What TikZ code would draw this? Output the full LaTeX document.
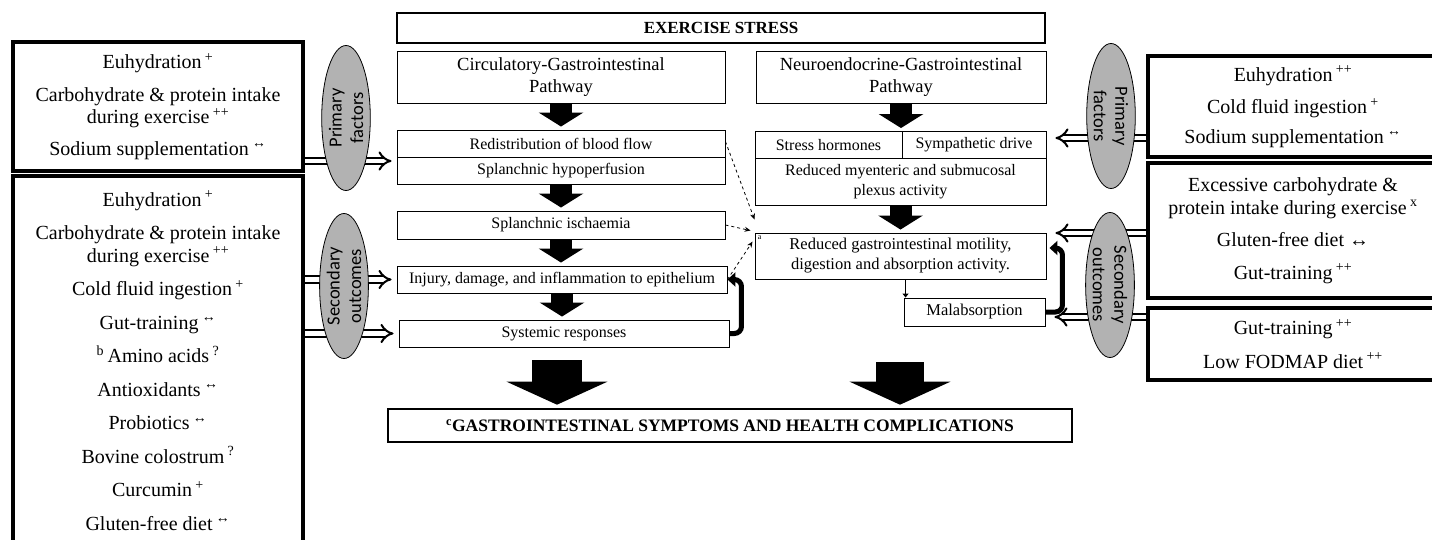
\documentclass[tikz,border=0pt]{standalone}
\usepackage{fontspec}
\setmainfont{Liberation Serif}
\newfontfamily\ovalfont{Carlito}
\usetikzlibrary{arrows.meta,shapes.geometric,calc}
\newcommand{\eff}[1]{\,\textsuperscript{#1}}

\begin{document}
\begin{tikzpicture}[x=1pt,y=-1pt,
    stressbox/.style={draw,line width=2.6pt,minimum width=648pt,minimum height=30pt,inner sep=0pt,font=\bfseries\fontsize{17}{20}\selectfont},
    pathbox/.style={draw,line width=0.9pt,minimum width=328pt,minimum height=52pt,inner sep=0pt,align=center,font=\fontsize{18.5}{22}\selectfont},
    stepbox/.style={draw,line width=0.9pt,minimum width=328pt,minimum height=27pt,inner sep=0pt,align=center,font=\fontsize{16}{20}\selectfont},
    listbox/.style={draw,line width=4pt,minimum width=290pt,inner sep=0pt,align=center,font=\fontsize{20}{22.5}\selectfont},
    oval/.style={ellipse,draw,line width=0.8pt,fill=gray!60,minimum width=145pt,inner sep=0pt,align=center,font=\ovalfont\fontsize{18.5}{21.5}\selectfont},
    dbl/.style={line width=2pt,double=white,double distance=4.5pt,-{Implies[length=6pt,width=17pt]},shorten >=5pt},
    blk/.style={line width=22pt,-{Triangle[width=44pt,length=14pt]},shorten >=3pt,shorten <=1pt},
    bigblk/.style={-{Triangle[width=100pt,length=23pt]},shorten >=3pt},
    hook/.style={line width=5pt,rounded corners=7pt,-{Triangle[width=14pt,length=8pt]}},
    dsh/.style={dashed,line width=0.8pt,-{Stealth[length=6pt,width=5pt]}}
  ]
  \useasboundingbox (0,0) rectangle (1432,540);

  \node[stressbox] (stress) at (721,28) {EXERCISE STRESS};
  \node[pathbox] (circ) at (561,77) {Circulatory-Gastrointestinal\\Pathway};
  \node[pathbox,minimum width=290pt] (neuro) at (901,77) {Neuroendocrine-Gastrointestinal\\Pathway};

  % circulatory side
  \node[stepbox] (redis) at (561,143.5) {Redistribution of blood flow};
  \node[stepbox] (hypo) at (561,170.5) {Splanchnic hypoperfusion};
  \node[stepbox,minimum height=28pt] (isch) at (561,225) {Splanchnic ischaemia};
  \node[stepbox,minimum width=330pt] (inj) at (562,279.5) {Injury, damage, and inflammation to epithelium};
  \node[stepbox,minimum width=330pt] (sys) at (564,333.5) {Systemic responses};

  % neuroendocrine side
  \node[stepbox,minimum width=147pt] (horm) at (828.5,145) {Stress hormones};
  \node[stepbox,minimum width=144pt] (symp) at (974,145) {Sympathetic drive};
  \node[stepbox,minimum width=291pt,minimum height=47pt] (myent) at (900.5,181.5) {Reduced myenteric and submucosal\\plexus activity};
  \node[stepbox,minimum width=291pt,minimum height=46pt,font=\fontsize{16.5}{20}\selectfont] (gimot) at (900.5,256) {Reduced gastrointestinal motility,\\digestion and absorption activity.};
  \node[font=\fontsize{8}{8}\selectfont,anchor=north west,inner sep=3pt] (anote) at (gimot.north west) {a};
  \node[stepbox,minimum width=141pt,minimum height=28pt,font=\fontsize{16.5}{20}\selectfont] (mal) at (974.5,312) {Malabsorption};

  \node[stressbox,minimum width=684pt,minimum height=33pt,font=\bfseries\fontsize{17.5}{20}\selectfont] (final) at (730,425.5) {\textsuperscript{c}GASTROINTESTINAL SYMPTOMS AND HEALTH COMPLICATIONS};

  % strategy boxes
  \node[listbox,minimum height=129pt] (lprim) at (158,106.5) {Euhydration\eff{+}\\[10pt]
    Carbohydrate \& protein intake\\during exercise\eff{++}\\[9pt]
    Sodium supplementation\eff{↔}};
  \node[listbox,minimum height=369pt] (lsec) at (158,360.5) {Euhydration\eff{+}\\[11pt]
    Carbohydrate \& protein intake\\during exercise\eff{++}\\[11pt]
    Cold fluid ingestion\eff{+}\\[11pt]
    Gut-training\eff{↔}\\[11pt]
    \textsuperscript{b}\,Amino acids\eff{?}\\[11pt]
    Antioxidants\eff{↔}\\[11pt]
    Probiotics\eff{↔}\\[11pt]
    Bovine colostrum\eff{?}\\[11pt]
    Curcumin\eff{+}\\[11pt]
    Gluten-free diet\eff{↔}};
  \node[listbox,minimum height=101pt] (rprim) at (1293,106.5) {Euhydration\eff{++}\\[10pt]
    Cold fluid ingestion\eff{+}\\[7pt]
    Sodium supplementation\eff{↔}};
  \node[listbox,minimum height=135pt] (rsecA) at (1293,230.5) {Excessive carbohydrate \&\\
    protein intake during exercise\eff{x}\\[10pt]
    Gluten-free diet ↔\\[10pt]
    Gut-training\eff{++}};
  \node[listbox,minimum height=72pt] (rsecB) at (1293,344) {Gut-training\eff{++}\\[11pt]
    Low FODMAP diet\eff{++}};

  \path
   (circ) edge[blk] (redis)
   (hypo) edge[blk] (isch)
   (isch.south) edge[blk] (isch.south |- inj.north)
   (inj.south) edge[blk] (inj.south |- sys.north)
   (neuro.south) edge[blk] (neuro.south |- horm.north)
   (myent) edge[blk] (gimot);

  \draw[line width=1.6pt,-{Triangle[width=6pt,length=4pt]}] ($(gimot.south -| mal.north west)+(2,0)$) -- ($(mal.north west)+(2,0)$);

  \coordinate (bigL) at (557,360);
  \coordinate (bigR) at (900,362);
  \draw[bigblk,line width=50pt] (bigL) -- (bigL |- final.north);
  \draw[bigblk,line width=48pt] (bigR) -- (bigR |- final.north);

  \draw[dsh] ($(redis.north east)+(0,12)$) -- ($(gimot.north west)+(0,-13)$);
  \draw[dsh] (isch.east) -- ($(gimot.north west)+(-4,-2)$);
  \draw[dsh] (inj.east) -- ($(gimot.north west)+(-2,9)$);

  \draw[hook] (sys.east) -| ($(inj.east)+(14,0)$) -- (inj.east);
  \draw[hook] (mal.east) -| ($(gimot.east)+(16,-8)$) -- ($(gimot.east)+(3,-8)$);

  % open arrows, behind the ovals
  \path
   (lprim.east |- 0,161) edge[dbl] (hypo.west |- 0,161)
   (lsec.east |- inj.west) edge[dbl] (inj.west)
   (lsec.east |- sys.west) edge[dbl] (sys.west)
   (rprim.west |- 0,138) edge[dbl,shorten >=9pt] (symp.east |- 0,138)
   (rsecA.west |- 0,233) edge[dbl,shorten >=9pt] (gimot.east |- 0,233)
   (rsecB.west |- 0,317) edge[dbl,shorten >=9pt] (mal.east |- 0,317);

  \node[oval,rotate=90,minimum height=42pt] (lpf) at (346,118) {Primary\\factors};
  \node[oval,rotate=90,minimum height=47pt] (lso) at (344,286) {Secondary\\outcomes};
  \node[oval,rotate=-90,minimum height=40pt] (rpf) at (1111,116) {Primary\\factors};
  \node[oval,rotate=-90,minimum height=44pt] (rso) at (1110,285) {Secondary\\outcomes};
\end{tikzpicture}
\end{document}
